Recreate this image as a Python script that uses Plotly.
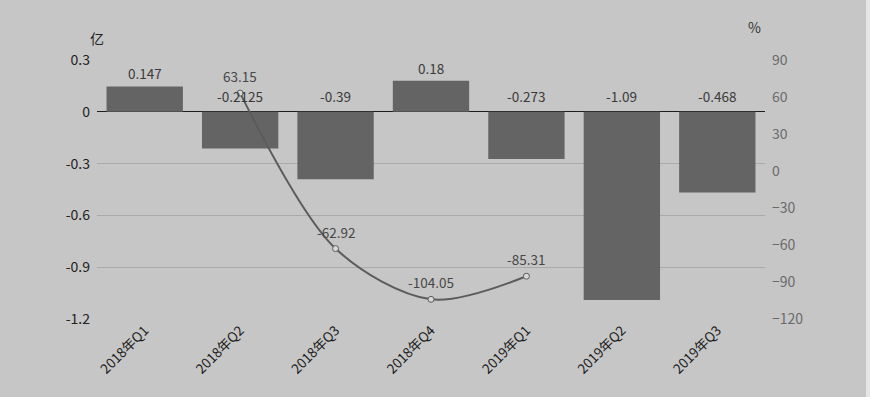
import plotly.graph_objects as go

categories = ["2018年Q1", "2018年Q2", "2018年Q3", "2018年Q4", "2019年Q1", "2019年Q2", "2019年Q3"]
profit = [0.147, -0.2125, -0.39, 0.18, -0.273, -1.09, -0.468]
profit_labels = ["0.147", "-0.2125", "-0.39", "0.18", "-0.273", "-1.09", "-0.468"]
growth_cats = ["2018年Q2", "2018年Q3", "2018年Q4", "2019年Q1"]
growth = [63.15, -62.92, -104.05, -85.31]
growth_labels = ["63.15", "-62.92", "-104.05", "-85.31"]
left_ticks = [0.3, 0, -0.3, -0.6, -0.9, -1.2]
right_ticks = [90, 60, 30, 0, -30, -60, -90, -120]

BG = "#c6c6c6"
fig = go.Figure()
fig.add_trace(go.Bar(x=categories, y=profit, marker=dict(color="#646464", line=dict(width=0)),
                     yaxis="y", showlegend=False, hoverinfo="skip"))
fig.add_trace(go.Scatter(x=growth_cats, y=growth, yaxis="y2", mode="lines+markers",
                         line=dict(color="#5c5c5c", width=2, shape="spline", smoothing=0.9),
                         marker=dict(size=6, color="#d8d8d8", line=dict(color="#5c5c5c", width=1)),
                         showlegend=False, hoverinfo="skip"))

annotations = []
for c, v, t in zip(categories, profit, profit_labels):
    annotations.append(dict(x=c, y=max(v, 0), xref="x", yref="y", text=t, showarrow=False,
                            yanchor="bottom", yshift=1 if v > 0 else 4,
                            font=dict(family="Noto Sans CJK SC", size=13.5, color="#3a3a3a")))
for c, v, t in zip(growth_cats, growth, growth_labels):
    annotations.append(dict(x=c, y=v, xref="x", yref="y2", text=t, showarrow=False,
                            yanchor="bottom", yshift=5,
                            font=dict(family="Noto Sans CJK SC", size=13.5, color="#474747")))
annotations.append(dict(x=0.0, y=1.085, xref="paper", yref="paper", text="亿", showarrow=False,
                        xanchor="center", yanchor="middle",
                        font=dict(family="Noto Sans CJK SC", size=14, color="#222222")))
annotations.append(dict(x=0.985, y=1.127, xref="paper", yref="paper", text="%", showarrow=False,
                        xanchor="center", yanchor="middle",
                        font=dict(family="Noto Sans CJK SC", size=14, color="#333333")))

fig.update_layout(
    width=870, height=397,
    margin=dict(l=97, r=105, t=60, b=78),
    paper_bgcolor=BG, plot_bgcolor=BG,
    bargap=0.2,
    font=dict(family="Noto Sans CJK SC", size=13, color="#333333"),
    xaxis=dict(type="category", tickangle=-45, showgrid=False, showline=False, ticks="",
               tickfont=dict(size=13.5, color="#1a1a1a")),
    yaxis=dict(range=[-1.2, 0.3], tickvals=left_ticks, ticktext=["0.3", "0", "-0.3", "-0.6", "-0.9", "-1.2"],
               showgrid=True, gridcolor="#aaaaaa", gridwidth=1, zeroline=True, zerolinecolor="#1e1e1e",
               zerolinewidth=1.2, showline=False, ticks="", ticklabelstandoff=6,
               tickfont=dict(size=14, color="#222222")),
    yaxis2=dict(range=[-120, 90], tickvals=right_ticks, overlaying="y", side="right",
                showgrid=False, zeroline=False, showline=False, ticks="", ticklabelstandoff=6,
                tickfont=dict(size=14, color="#6a6a6a")),
    annotations=annotations,
    shapes=[dict(type="rect", xref="paper", yref="paper", x0=(866 - 97) / 668, x1=(871 - 97) / 668,
                 y0=-1, y1=2, fillcolor="#e6e6e6", line=dict(width=0), layer="above")],
)
fig.write_html("out.html", config={"displayModeBar": False},
               post_script="document.body.style.margin='0';document.body.style.padding='0';")
